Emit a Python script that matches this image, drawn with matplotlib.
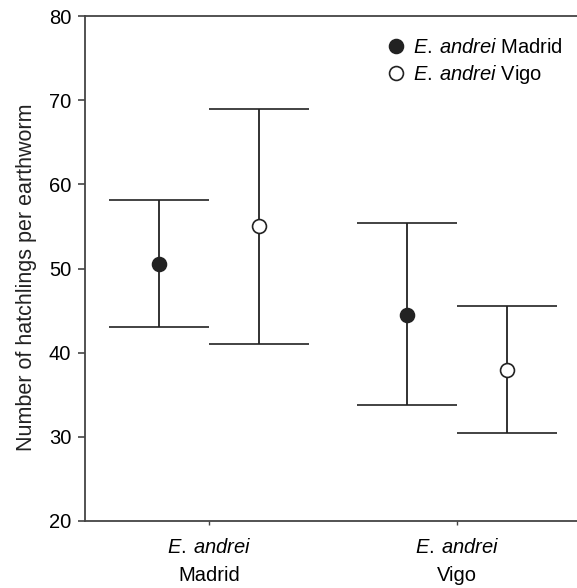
import matplotlib
matplotlib.use("Agg")
import matplotlib.pyplot as plt
import numpy as np

plt.rcParams['font.family'] = ['Liberation Sans', 'DejaVu Sans']
plt.rcParams['mathtext.fontset'] = 'custom'
plt.rcParams['mathtext.rm'] = 'Liberation Sans'
plt.rcParams['mathtext.it'] = 'Liberation Sans:italic'

# data
categories = ['$\\mathit{E.\\:andrei}$\nMadrid', '$\\mathit{E.\\:andrei}$\nVigo']
madrid_mean = [50.5, 44.5]
madrid_upper = [58.1, 55.4]
madrid_lower = [43.0, 33.8]
vigo_mean = [55.0, 37.9]
vigo_upper = [68.9, 45.5]
vigo_lower = [41.0, 30.4]

x = np.arange(1, len(categories) + 1)

fig = plt.figure(figsize=(5.77, 5.88), dpi=100)
ax = fig.add_axes([85 / 577, 1 - 521 / 588, (577 - 85) / 577, (521 - 16) / 588])

line_col = '#222222'

def draw(xpos, mean, upper, lower, face, label):
    mean = np.array(mean)
    yerr = [mean - np.array(lower), np.array(upper) - mean]
    ax.errorbar(xpos, mean, yerr=yerr, fmt='o', color=line_col, ecolor=line_col,
                elinewidth=1.3, capsize=36, capthick=1.3, markersize=10,
                markerfacecolor=face, markeredgecolor=line_col, markeredgewidth=1.2,
                label=label, zorder=3)

draw(x - 0.2, madrid_mean, madrid_upper, madrid_lower, '#222222', '$\\mathit{E.\\:andrei}$ Madrid')
draw(x + 0.2, vigo_mean, vigo_upper, vigo_lower, 'white', '$\\mathit{E.\\:andrei}$ Vigo')

ax.set_xlim(0.5, 0.5 + (577 - 85) / 248)
ax.set_ylim(20, 80)
ax.set_yticks([20, 30, 40, 50, 60, 70, 80])
ax.set_xticks(x)
ax.set_xticklabels(categories)
for t in ax.get_xticklabels():
    t.set_linespacing(1.6)

ax.spines['right'].set_visible(False)
for side in ['left', 'bottom', 'top']:
    ax.spines[side].set_color('#444444')
    ax.spines[side].set_linewidth(1.3)

ax.tick_params(axis='y', direction='out', length=5, width=1.2, color='#444444', labelsize=14.5, pad=5)
ax.tick_params(axis='x', direction='out', length=3, width=1.0, color='#444444', labelsize=14.5, pad=9.5)

ax.set_ylabel('Number of hatchlings per earthworm', fontsize=15.5, color='#222222')
ax.yaxis.set_label_coords(-0.098, 0.483)

handles, labels = ax.get_legend_handles_labels()
handles = [h[0] for h in handles]
leg = ax.legend(handles, labels, loc='upper right', bbox_to_anchor=(1.0, 0.985), frameon=False,
                fontsize=14.5, handlelength=0.9, handletextpad=0.4, labelspacing=0.3,
                borderaxespad=0.3)

fig.savefig('out.png', dpi=100)
